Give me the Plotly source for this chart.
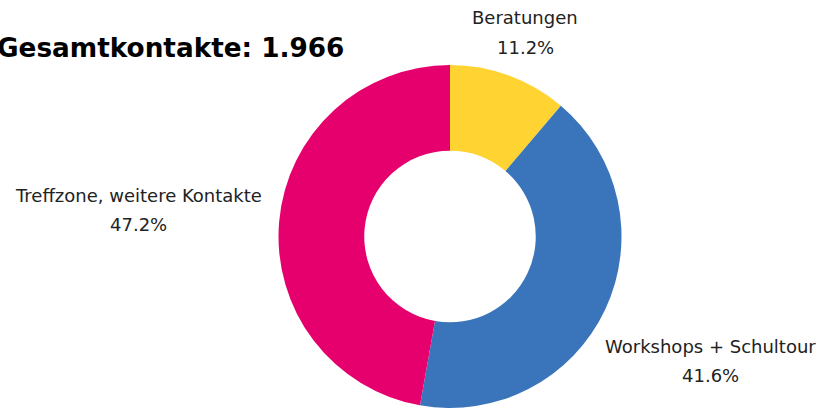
import plotly.graph_objects as go

categories = ["Beratungen", "Workshops + Schultour", "Treffzone, weitere Kontakte"]
values = [220, 818, 928]
colors = ["#FFD432", "#3A75BC", "#E6006E"]
title_text = "Gesamtkontakte: 1.966"

total = sum(values)
W, H = 819, 408

fig = go.Figure(go.Pie(
    labels=categories, values=values, hole=0.5, sort=False,
    direction="clockwise", rotation=0,
    marker=dict(colors=colors, line=dict(width=0)),
    textinfo="none", hoverinfo="label+percent", showlegend=False,
    domain=dict(x=[278 / W, 622 / W], y=[0, (H - 65) / H]),
))

# (center x, line1 y, line2 y) in pixels
label_pos = [(525, 18, 47), (710, 346, 375), (138, 195, 224)]
lab_font = dict(family="DejaVu Sans", size=18, color="#222222")
for cat, v, (px, y1, y2) in zip(categories, values, label_pos):
    fig.add_annotation(
        x=px / W, y=1 - y1 / H, xref="paper", yref="paper",
        text=cat, showarrow=False, font=lab_font,
        xanchor="center", yanchor="middle",
    )
    fig.add_annotation(
        x=px / W, y=1 - y2 / H, xref="paper", yref="paper",
        text=f"{100 * v / total:.1f}%", showarrow=False, font=lab_font,
        xanchor="center", yanchor="middle",
    )

fig.add_annotation(
    x=-5 / W, y=1 - 48 / H, xref="paper", yref="paper",
    text=f"<b>{title_text}</b>", showarrow=False,
    font=dict(family="DejaVu Sans", size=26.3, color="#000000"),
    xanchor="left", yanchor="middle",
)

fig.update_layout(
    width=W, height=H, margin=dict(l=0, r=0, t=0, b=0),
    paper_bgcolor="white", plot_bgcolor="white",
)
fig.write_html(
    "out.html",
    config={"displayModeBar": False},
    post_script="document.body.style.margin='0';document.body.style.overflow='hidden';",
)
